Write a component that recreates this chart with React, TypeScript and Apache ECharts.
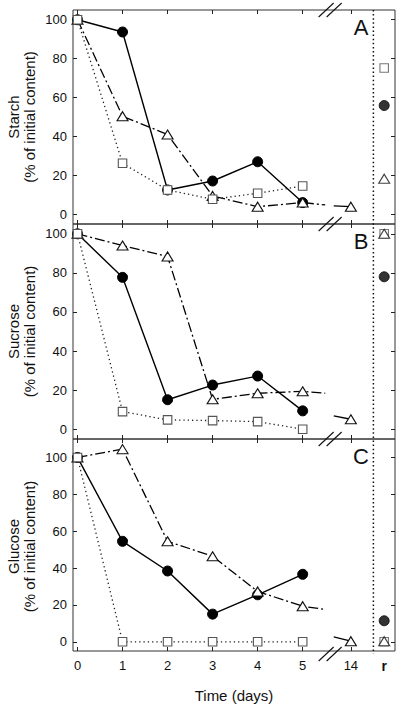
import React, { useEffect, useRef } from "react";
import * as echarts from "echarts";

// ---- data ----
const dayLabels = ["0", "1", "2", "3", "4", "5", "14", "r"];
// positions of the categories on the broken time axis
const dayAxisPos = [0, 1, 2, 3, 4, 5, 6.07, 6.81];
const yTicks = [0, 20, 40, 60, 80, 100];

const starchCircle = [100, 93.7, 12.5, 17.1, 27.0, 6.0];
const starchCircleR = 55.9;
const starchTriangle = [100, 50.4, 41.0, 9.4, 3.9, 6.0];
const starchTriangleBreak = [4.8, 4.3];
const starchTriangle14 = 3.9;
const starchTriangleR = 18.3;
const starchSquare = [100, 26.2, 12.5, 7.7, 10.8, 14.5];
const starchSquareR = 75.2;

const sucroseCircle = [100, 77.7, 15.1, 22.6, 27.2, 9.4];
const sucroseCircleR = 78.0;
const sucroseTriangle = [100, 94.0, 88.4, 15.3, 18.4, 19.4];
const sucroseTriangleBreak = [18.4, 6.8];
const sucroseTriangle14 = 5.1;
const sucroseTriangleR = 100;
const sucroseSquare = [100, 9.0, 4.8, 4.4, 3.9, 0];
const sucroseSquareR = 100;

const glucoseCircle = [100, 54.5, 38.4, 15.0, 25.5, 36.6];
const glucoseCircleR = 11.4;
const glucoseTriangle = [100, 104.5, 54.5, 46.4, 27.3, 19.3];
const glucoseTriangleBreak = [17.5, 2.7];
const glucoseTriangle14 = 0.3;
const glucoseTriangleR = 0.3;
const glucoseSquare = [100, 0, 0, 0, 0, 0];
const glucoseSquareR = 0;

// axis-break stub positions (in time-axis units)
const breakStubLeft = 5.5;
const breakStubRight = 5.69;
const breakMarkPos = 5.61;
const separatorPos = 6.57;

const FONT = "Liberation Sans, Arial, Helvetica, sans-serif";

const panels = [
  { name: "Starch", letter: "A", top: 10, height: 214, max: 105,
    circle: starchCircle, circleR: starchCircleR, tri: starchTriangle, triBreak: starchTriangleBreak,
    tri14: starchTriangle14, triR: starchTriangleR, sq: starchSquare, sqR: starchSquareR },
  { name: "Sucrose", letter: "B", top: 224, height: 215, max: 105,
    circle: sucroseCircle, circleR: sucroseCircleR, tri: sucroseTriangle, triBreak: sucroseTriangleBreak,
    tri14: sucroseTriangle14, triR: sucroseTriangleR, sq: sucroseSquare, sqR: sucroseSquareR },
  { name: "Glucose", letter: "C", top: 439, height: 215, max: 110,
    circle: glucoseCircle, circleR: glucoseCircleR, tri: glucoseTriangle, triBreak: glucoseTriangleBreak,
    tri14: glucoseTriangle14, triR: glucoseTriangleR, sq: glucoseSquare, sqR: glucoseSquareR },
];

const X_MIN = -0.1;
const X_MAX = 7.05;
const LEFT = 73;
const RIGHT = 5;

function labelFor(v: number) {
  let best = 0;
  for (let i = 0; i < dayAxisPos.length; i++) {
    if (Math.abs(dayAxisPos[i] - v) < Math.abs(dayAxisPos[best] - v)) best = i;
  }
  return dayLabels[best] === "r" ? "{b|r}" : dayLabels[best];
}

function buildOption() {
  const grid: any[] = [];
  const xAxis: any[] = [];
  const yAxis: any[] = [];
  const series: any[] = [];
  const tickStyle = { show: true, inside: true, length: 4, lineStyle: { color: "#222", width: 1 } };
  const noLine = { show: false, onZero: false };
  const xTickVals = dayAxisPos.slice(0, 7);

  panels.forEach((p) => {
    grid.push({ left: LEFT, right: RIGHT, top: p.top, height: p.height, show: true,
      borderColor: "#333", borderWidth: 1, backgroundColor: "transparent" });
  });
  // bottom x axes
  panels.forEach((p, i) => {
    xAxis.push({
      type: "value", gridIndex: i, min: X_MIN, max: X_MAX, position: "bottom",
      axisLine: noLine, splitLine: { show: false },
      axisTick: { ...tickStyle, customValues: xTickVals },
      axisLabel: {
        show: i === 2, customValues: dayAxisPos, margin: 8, fontSize: 13, color: "#111", fontFamily: FONT,
        formatter: (v: number) => labelFor(v),
        rich: { b: { fontWeight: "bold", fontSize: 14, fontFamily: FONT, color: "#111" } },
      },
      name: i === 2 ? "Time (days)" : "", nameLocation: "middle", nameGap: 37,
      nameTextStyle: { fontSize: 15, fontFamily: FONT, color: "#111" },
    });
  });
  // top x axes
  panels.forEach((p, i) => {
    xAxis.push({
      type: "value", gridIndex: i, min: X_MIN, max: X_MAX, position: "top",
      axisLine: noLine, splitLine: { show: false },
      axisTick: { ...tickStyle, customValues: xTickVals },
      axisLabel: { show: false },
    });
  });
  // left y axes
  panels.forEach((p, i) => {
    yAxis.push({
      type: "value", gridIndex: i, min: -5, max: p.max, position: "left",
      axisLine: noLine, splitLine: { show: false },
      axisTick: { ...tickStyle, customValues: yTicks },
      axisLabel: { customValues: yTicks, margin: 6, fontSize: 13, color: "#111", fontFamily: FONT },
    });
  });
  // right y axes
  panels.forEach((p, i) => {
    yAxis.push({
      type: "value", gridIndex: i, min: -5, max: p.max, position: "right",
      axisLine: noLine, splitLine: { show: false },
      axisTick: { ...tickStyle, customValues: yTicks },
      axisLabel: { show: false },
    });
  });

  const circleStyle = { color: "#000", borderColor: "#000", borderWidth: 1 };
  const triStyle = { color: "#fff", borderColor: "#111", borderWidth: 1.1 };
  const sqStyle = { color: "#fff", borderColor: "#555", borderWidth: 1.1 };
  const dashDot = [10, 3, 2, 3];

  panels.forEach((p, i) => {
    const base = { xAxisIndex: i, yAxisIndex: i, silent: true };
    // circles
    series.push({ ...base, type: "line", z: 2, data: p.circle.map((v, k) => [dayAxisPos[k], v]),
      symbol: "circle", symbolSize: 10, showAllSymbol: true,
      lineStyle: { color: "#000", width: 1.4, type: "solid" }, itemStyle: circleStyle });
    series.push({ ...base, type: "scatter", z: 2, data: [[dayAxisPos[7], p.circleR]],
      symbol: "circle", symbolSize: 10, itemStyle: circleStyle });
    // triangles
    const triData: any[] = p.tri.map((v, k) => [dayAxisPos[k], v]);
    triData.push({ value: [breakStubLeft, p.triBreak[0]], symbol: "none" });
    series.push({ ...base, type: "line", z: 3, data: triData,
      symbol: "triangle", symbolSize: [11, 9], showAllSymbol: true,
      lineStyle: { color: "#000", width: 1.3, type: dashDot }, itemStyle: triStyle });
    series.push({ ...base, type: "line", z: 3,
      data: [{ value: [breakStubRight, p.triBreak[1]], symbol: "none" }, [dayAxisPos[6], p.tri14]],
      symbol: "triangle", symbolSize: [11, 9], showAllSymbol: true,
      lineStyle: { color: "#000", width: 1.3, type: "solid" }, itemStyle: triStyle });
    series.push({ ...base, type: "scatter", z: 5, data: [[dayAxisPos[7], p.triR]],
      symbol: "triangle", symbolSize: [11, 9], itemStyle: triStyle });
    // squares
    series.push({ ...base, type: "line", z: 4, data: p.sq.map((v, k) => [dayAxisPos[k], v]),
      symbol: "rect", symbolSize: 8.5, showAllSymbol: true,
      lineStyle: { color: "#222", width: 1.3, type: [1.3, 3] }, itemStyle: sqStyle });
    series.push({ ...base, type: "scatter", z: 4, data: [[dayAxisPos[7], p.sqR]],
      symbol: "rect", symbolSize: 8.5, itemStyle: sqStyle });
  });

  return { animation: false, backgroundColor: "#fff", grid, xAxis, yAxis, series };
}

export default function App() {
  const ref = useRef<HTMLDivElement>(null);
  useEffect(() => {
    if (!ref.current) return;
    const chart = echarts.init(ref.current, undefined, { renderer: "svg" });
    chart.setOption(buildOption() as any);

    const sepX = chart.convertToPixel({ xAxisIndex: 0 }, separatorPos) as number;
    const brkX = chart.convertToPixel({ xAxisIndex: 0 }, breakMarkPos) as number;
    const topY = panels[0].top;
    const botY = panels[2].top + panels[2].height;
    const graphic: any[] = [];
    graphic.push({ type: "line", silent: true, z: 10,
      shape: { x1: sepX, y1: topY, x2: sepX, y2: botY },
      style: { stroke: "#111", lineWidth: 1.5, lineDash: [1.5, 2.6] } });
    const edges = [panels[0].top, panels[1].top, panels[2].top, botY];
    edges.forEach((y) => {
      [-4, 4].forEach((dx) => {
        graphic.push({ type: "line", silent: true, z: 10,
          shape: { x1: brkX + dx - 7.5, y1: y + 7, x2: brkX + dx + 7.5, y2: y - 7 },
          style: { stroke: "#111", lineWidth: 1.1 } });
      });
    });
    panels.forEach((p) => {
      graphic.push({ type: "text", silent: true, z: 10, x: 21, y: p.top + p.height / 2,
        rotation: Math.PI / 2,
        style: { text: p.name + "\n(% of initial content)", fill: "#111", font: `15px ${FONT}`,
          textAlign: "center", textVerticalAlign: "middle", lineHeight: 16 } });
      graphic.push({ type: "text", silent: true, z: 10, x: 361, y: p.top + 17,
        style: { text: p.letter, fill: "#111", font: `22px ${FONT}`,
          textAlign: "center", textVerticalAlign: "middle" } });
    });
    chart.setOption({ graphic } as any);
    return () => chart.dispose();
  }, []);
  return <div ref={ref} style={{ position: "absolute", left: 0, top: 0, width: 400, height: 704 }} />;
}
